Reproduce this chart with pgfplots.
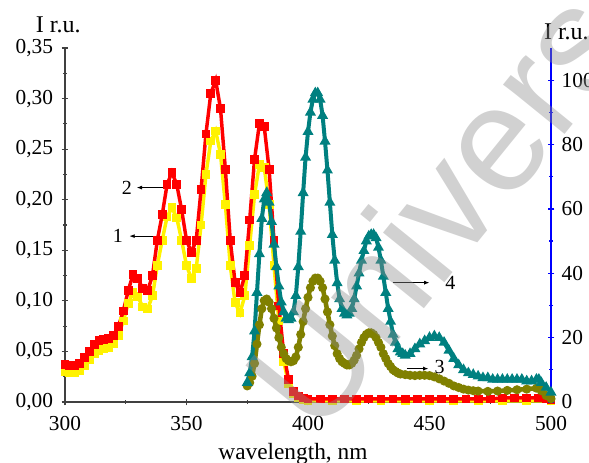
\documentclass[border=0pt]{standalone}
\usepackage{fontspec}
\setmainfont{Liberation Serif}
\newfontfamily\wmfont{Liberation Sans}
\usepackage{pgfplots}
\pgfplotsset{compat=1.18}
\usetikzlibrary{arrows.meta}

\definecolor{cteal}{RGB}{0,128,128}
\definecolor{colive}{RGB}{128,128,0}

\pgfplotsset{
  spec/.style={
    width=364.5pt, height=265.5pt, scale only axis,
    xmin=300, xmax=500,
    tick align=outside,
    major tick length=5pt, minor tick length=3pt,
    /pgf/number format/assume math mode=true,
    tick label style={font=\fontsize{16}{18}\selectfont},
    clip=false,
  },
}

\begin{document}
\begin{tikzpicture}
\path[use as bounding box] (-48.75pt,-45.75pt) rectangle (393pt,301.5pt);

\begin{axis}[spec,
    axis x line=bottom, axis y line=left,
    axis line style={-, line width=0.9pt, black!75},
    ymin=0, ymax=0.35,
    xtick={300,350,400,450,500}, minor x tick num=1,
    ytick={0,0.05,0.10,0.15,0.20,0.25,0.30,0.35}, minor y tick num=1,
    yticklabel style={xshift=-3pt, /pgf/number format/.cd, fixed, fixed zerofill, precision=2, use comma},
    xticklabel style={yshift=-5pt, /pgf/number format/.cd, 1000 sep={}},
    every tick/.style={black!75, line width=0.9pt},
  ]
  % 1 yellow
  \addplot[yellow, line width=2.6pt, mark=square*, mark size=2pt] coordinates {
    (300,0.030) (302,0.029) (304,0.029) (306,0.031) (308,0.036) (310,0.042)
    (312,0.048) (314,0.051) (316,0.053) (318,0.054) (320,0.058) (322,0.066)
    (324,0.080) (326,0.097) (328,0.108) (330,0.104) (332,0.094) (334,0.092)
    (336,0.105) (338,0.135) (340,0.160) (342,0.183) (344,0.192) (346,0.182)
    (348,0.160) (350,0.135) (352,0.122) (354,0.132) (356,0.175) (358,0.225)
    (360,0.258) (362,0.268) (364,0.245) (366,0.195) (368,0.135) (370,0.098)
    (372,0.088) (374,0.105) (376,0.155) (378,0.205) (380,0.235) (382,0.232)
    (384,0.195) (386,0.135) (388,0.080) (390,0.040) (392,0.018) (394,0.008)
    (396,0.004) (398,0.002) (400,0.001) (410,0.001) (420,0.001) (430,0.001)
    (440,0.001) (450,0.001) (460,0.001) (470,0.001) (480,0.001) (490,0.001)
    (500,0.001)
  };
  % 2 red
  \addplot[red, line width=2.6pt, mark=square*, mark size=2pt] coordinates {
    (300,0.037) (302,0.036) (304,0.036) (306,0.038) (308,0.044) (310,0.050)
    (312,0.057) (314,0.061) (316,0.062) (318,0.063) (320,0.066) (322,0.075)
    (324,0.090) (326,0.110) (328,0.126) (330,0.122) (332,0.112) (334,0.110)
    (336,0.125) (338,0.160) (340,0.185) (342,0.215) (344,0.227) (346,0.215)
    (348,0.190) (350,0.160) (352,0.148) (354,0.160) (356,0.210) (358,0.265)
    (360,0.305) (362,0.318) (364,0.290) (366,0.230) (368,0.160) (370,0.118)
    (372,0.108) (374,0.125) (376,0.180) (378,0.240) (380,0.275) (382,0.272)
    (384,0.230) (386,0.160) (388,0.095) (390,0.048) (392,0.022) (394,0.010)
    (396,0.006) (398,0.004) (400,0.003) (405,0.003) (410,0.003) (415,0.003)
    (420,0.003) (425,0.003) (430,0.003) (435,0.003) (440,0.003) (445,0.003)
    (450,0.003) (455,0.003) (460,0.003) (465,0.003) (470,0.003) (475,0.003)
    (480,0.004) (485,0.004) (490,0.004) (495,0.004) (498,0.003) (500,0.002)
  };
  \node[font=\fontsize{15}{17}\selectfont] at (axis cs:325.5,0.212) {2};
  \draw[line width=0.7pt, {Latex[length=4pt,width=3pt]}-] (axis cs:329.5,0.212) -- (axis cs:342.4,0.212);
  \node[font=\fontsize{15}{17}\selectfont] at (axis cs:321.8,0.164) {1};
  \draw[line width=0.7pt, {Latex[length=4pt,width=3pt]}-] (axis cs:326.5,0.164) -- (axis cs:340.3,0.164);
  \node[font=\fontsize{15}{17}\selectfont] at (axis cs:458.6,0.118) {4};
  \draw[line width=0.7pt, -{Latex[length=4pt,width=3pt]}] (axis cs:435,0.118) -- (axis cs:450,0.118);
  \node[font=\fontsize{15}{17}\selectfont] at (axis cs:454.2,0.035) {3};
  \draw[line width=0.7pt, -{Latex[length=4pt,width=3pt]}] (axis cs:440.7,0.033) -- (axis cs:449.6,0.033);
  \node[font=\fontsize{18}{20}\selectfont, anchor=center] at (rel axis cs:-0.014,1.065) {I r.u.};
  \node[font=\fontsize{17.5}{20}\selectfont, anchor=center] at (rel axis cs:0.469,-0.148) {wavelength, nm};
\end{axis}

\begin{axis}[spec,
    axis x line=none, axis y line=right,
    axis line style={-, line width=0.9pt, blue},
    every tick/.style={blue, line width=0.9pt},
    yticklabel style={xshift=2pt},
    ymin=0, ymax=110,
    ytick={0,20,40,60,80,100}, minor y tick num=1,
  ]
  % 3 olive
  \addplot[colive, line width=3.4pt, mark=*, mark size=1.6pt] coordinates {
    (375,5) (376,6) (377,8) (378,12) (379,18) (380,24) (381,29) (382,31.5)
    (383,32) (384,31) (385,29) (386,26) (387,23) (388,20) (389,17) (390,15)
    (391,13.5) (392,12.8) (393,12.5) (394,12.8) (395,14) (396,17) (397,21)
    (398,25) (399,29) (400,32.5) (401,35.5) (402,37.5) (403,38.5) (404,38.5)
    (405,37.5) (406,35.5) (407,32) (408,28) (409,24) (410,20.5) (411,17.5)
    (412,15) (413,13.5) (414,12.5) (415,12) (416,11.5) (417,11.5) (418,12)
    (419,13) (420,14.5) (421,16.5) (422,18.5) (423,20) (424,21) (425,21.5)
    (426,21.5) (427,21) (428,20) (429,18.5) (430,17) (431,15) (432,13.5)
    (433,12) (434,11) (435,10) (436,9.5) (437,9) (438,8.7) (440,8.5)
    (442,8.3) (444,8.2) (446,8.3) (448,8.3) (450,8.2) (452,7.8) (454,7.2)
    (456,6.5) (458,5.8) (460,5) (462,4.5) (464,4) (466,3.7) (468,3.5)
    (470,3.4) (474,3.3) (478,3.4) (482,3.6) (486,3.8) (490,4) (494,4.3)
    (495,4.5) (496,3.5) (498,2) (500,1)
  };
  % 4 teal
  \addplot[cteal, line width=3pt, mark=triangle*, mark size=1.8pt] coordinates {
    (375,6) (376,9) (377,14) (378,22) (379,34) (380,46) (381,57) (382,63)
    (383,65) (384,62) (385,56) (386,49) (387,42) (388,36) (389,31) (390,28)
    (391,26) (392,25.5) (393,26) (394,28) (395,33) (396,42) (397,53) (398,65)
    (399,76) (400,84) (401,90) (402,94) (403,96) (404,96) (405,94) (406,89)
    (407,81) (408,72) (409,62) (410,52) (411,44) (412,37) (413,32) (414,29)
    (415,27.5) (416,27) (417,27.5) (418,29) (419,32) (420,36) (421,40)
    (422,44) (423,47) (424,50) (425,51.5) (426,52) (427,52) (428,51)
    (429,48) (430,44) (431,39) (432,34) (433,29) (434,25) (435,21)
    (436,18.5) (437,16.5) (438,15.5) (439,15) (440,14.5) (442,15) (444,16.5)
    (446,18) (448,19) (450,20) (452,20.5) (454,20) (456,18.5) (458,16)
    (460,13.5) (462,11.5) (464,10) (466,9) (468,8.5) (470,8) (472,7.5)
    (474,7.5) (476,7) (478,7) (480,7) (482,7) (484,7) (486,7) (488,7)
    (490,6.5) (492,6.5) (494,7) (495,7) (496,6) (498,4.5) (500,3)
  };
  \node[font=\fontsize{18}{20}\selectfont, anchor=west] at (rel axis cs:0.976,1.046) {I r.u.};
\end{axis}

% watermark
\node[rotate=51, anchor=base west, inner sep=0pt, text=black!45, opacity=0.4,
      font=\wmfont\fontsize{112}{112}\selectfont] at (189.75pt,-28pt) {Univers};
\end{tikzpicture}
\end{document}
